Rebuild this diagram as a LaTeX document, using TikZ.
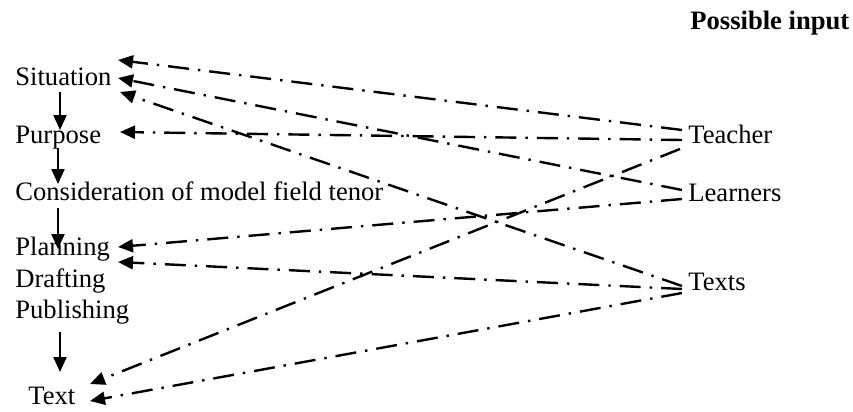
\documentclass[tikz,border=0pt]{standalone}
\usepackage{fontspec}
\setmainfont{Liberation Serif}
\usetikzlibrary{arrows.meta}
\begin{document}
\begin{tikzpicture}[x=0.5pt,y=-0.5pt,
  lbl/.style={anchor=base west, inner sep=0pt, font=\fontsize{13.3}{15}\selectfont},
  hdr/.style={anchor=base west, inner sep=0pt, font=\fontsize{13.3}{15}\selectfont\bfseries},
  dd/.style={line width=1.2pt, dash pattern=on 10.5pt off 4.5pt on 1.2pt off 4.5pt, -{Triangle[length=7.5pt,width=6.5pt]}},
  solidarr/.style={line width=1.1pt, -{Triangle[length=7.5pt,width=6.5pt]}}]
\useasboundingbox (0,0) rectangle (853,412);
% left column
\node[lbl] (sit) at (15,85) {Situation};
\node[lbl] (pur) at (15,143) {Purpose};
\node[lbl] (con) at (15,200) {Consideration of model field tenor};
\node[lbl] (pla) at (15,255) {Planning};
\node[lbl] (dra) at (15,287) {Drafting};
\node[lbl] (pub) at (15,318) {Publishing};
\node[lbl] (txt) at (28,404) {Text};
% right column
\node[hdr] (hdr) at (690,29) {Possible input};
\node[lbl] (tea) at (688,143) {Teacher};
\node[lbl] (lea) at (688,201) {Learners};
\node[lbl] (tex) at (688,290) {Texts};
% ports
\coordinate (sitA1) at (118,60);
\coordinate (sitA2) at (118,78);
\coordinate (sitA3) at (120,92);
\coordinate (purA) at (120,132);
\coordinate (plaA1) at (118,247);
\coordinate (plaA2) at (118,262);
\coordinate (txtA1) at (90,384);
\coordinate (txtA2) at (90,401);
\coordinate (teaP1) at (682,130);
\coordinate (teaP2) at (682,140);
\coordinate (teaP3) at (680,149);
\coordinate (leaP1) at (682,190);
\coordinate (leaP2) at (682,199);
\coordinate (texP1) at (682,286);
\coordinate (texP2) at (682,289);
\coordinate (texP3) at (682,293);
% vertical flow
\coordinate (v1a) at (60,92);  \coordinate (v1b) at (60,130);
\coordinate (v2a) at (58,148); \coordinate (v2b) at (58,184);
\coordinate (v3a) at (58,208); \coordinate (v3b) at (58,249);
\coordinate (v4a) at (60,332); \coordinate (v4b) at (60,372);
\draw[solidarr] (v1a) -- (v1b);
\draw[solidarr] (v2a) -- (v2b);
\draw[solidarr] (v3a) -- (v3b);
\draw[solidarr] (v4a) -- (v4b);
% input connectors
\draw[dd] (teaP1) -- (sitA1);
\draw[dd] (teaP2) -- (purA);
\draw[dd] (teaP3) -- (txtA1);
\draw[dd] (leaP1) -- (sitA2);
\draw[dd] (leaP2) -- (plaA1);
\draw[dd] (texP1) -- (sitA3);
\draw[dd] (texP2) -- (plaA2);
\draw[dd] (texP3) -- (txtA2);
\end{tikzpicture}
\end{document}
